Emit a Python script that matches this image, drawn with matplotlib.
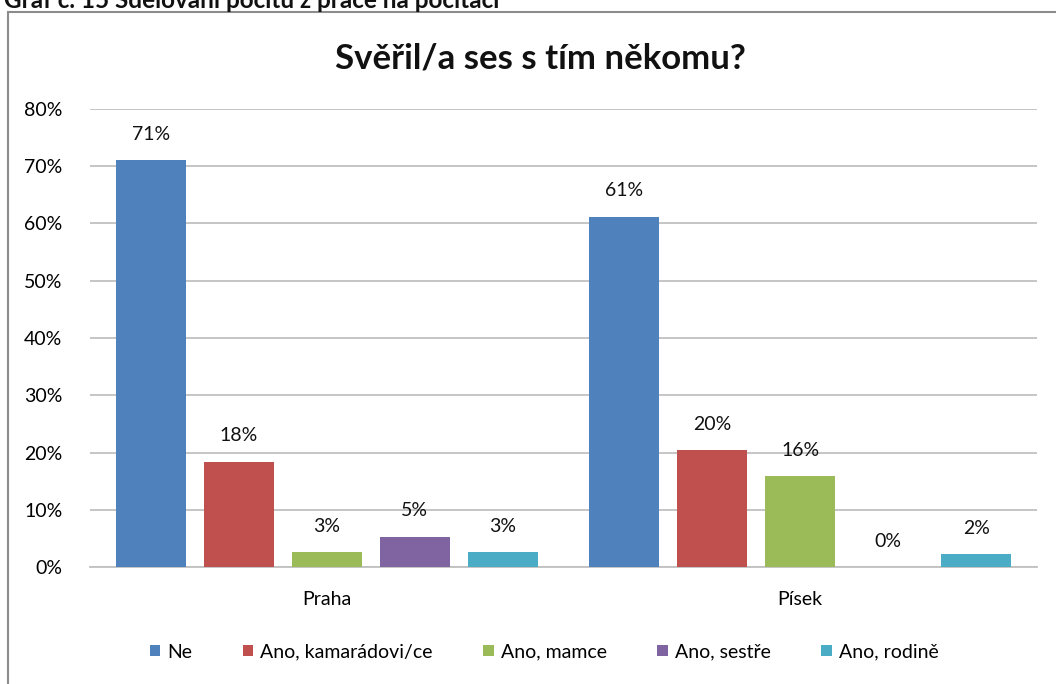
import numpy as np
import matplotlib.pyplot as plt
from matplotlib.patches import Rectangle

plt.rcParams['font.family'] = ['Lato', 'DejaVu Sans']

categories = ['Praha', 'Písek']
series = ['Ne', 'Ano, kamarádovi/ce', 'Ano, mamce', 'Ano, sestře', 'Ano, rodině']
values = [
    [71.1, 61.2],   # Ne
    [18.4, 20.4],   # Ano, kamarádovi/ce
    [2.6, 15.9],    # Ano, mamce
    [5.3, 0.0],     # Ano, sestře
    [2.6, 2.2],     # Ano, rodině
]
colors = ['#4F81BD', '#C0504D', '#9BBB59', '#8064A2', '#4BACC6']
yticks = [0, 10, 20, 30, 40, 50, 60, 70, 80]

fig = plt.figure(figsize=(10.56, 6.84), dpi=100)
fig.patch.set_facecolor('white')

# chart frame (cut off on the right and bottom like the screenshot)
fig.patches.append(Rectangle((8 / 1056, -0.1), 1.2, 1 - 12 / 684 + 0.1,
                             transform=fig.transFigure, fill=False,
                             edgecolor='#8c8c8c', linewidth=1.5))
fig.text(4 / 1056, 1.0, 'Graf č. 15 Sdělování pocitu z práce na počítači',
         fontsize=17.5, fontweight='bold', va='center', ha='left', color='#111111')

ax = fig.add_axes([90 / 1056, 1 - 567 / 684, 947 / 1056, (567 - 109) / 684])
x = np.arange(len(categories))
step = 0.1858
width = 0.148
for i, (name, vals) in enumerate(zip(series, values)):
    pos = x + (i - 2) * step
    ax.bar(pos, vals, width=width, color=colors[i], label=name, zorder=3)
    for p, v in zip(pos, vals):
        ax.text(p, v + 3.0, f'{v:.0f}%', ha='center', va='bottom',
                fontsize=14, color='#111111')

ax.set_xlim(-0.5, 1.5)
ax.set_ylim(0, 80)
ax.set_yticks(yticks)
ax.set_yticklabels([f'{t}%' for t in yticks], fontsize=14)
ax.set_xticks(x)
ax.set_xticklabels(categories, fontsize=14)
ax.yaxis.grid(True, color='#c0c0c0', linewidth=1.3, zorder=0)
ax.tick_params(axis='y', length=0, pad=20)
ax.tick_params(axis='x', length=0, pad=17)
for s in ['top', 'right', 'left']:
    ax.spines[s].set_visible(False)
ax.spines['bottom'].set_color('#c0c0c0')
ax.spines['bottom'].set_linewidth(1.3)

fig.text(540 / 1056, 1 - 58 / 684, 'Svěřil/a ses s tím někomu?', fontsize=25,
         fontweight='bold', ha='center', va='center', color='#111111')

fig.legend(loc='center', bbox_to_anchor=(544 / 1056, 1 - 652 / 684), ncol=5,
           frameon=False, fontsize=14, handlelength=0.55, handleheight=0.55,
           handletextpad=0.35, columnspacing=2.6)

fig.savefig('out.png', dpi=100, facecolor='white')
